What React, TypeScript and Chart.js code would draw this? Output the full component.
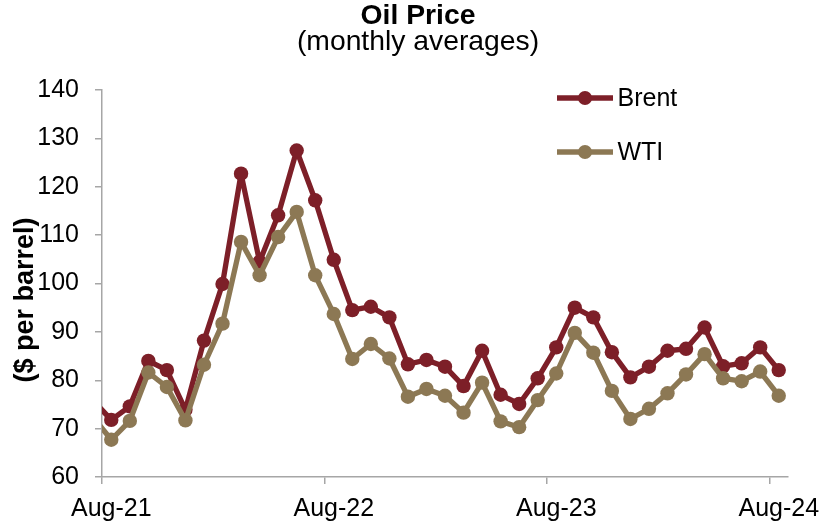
import React, { useEffect, useRef } from 'react';
import { Chart, registerables } from 'chart.js';

Chart.register(...registerables);

// Monthly averages, Jul-21 .. Aug-24 (Jul-21 lies just outside the visible axis range)
const months = [
  'Jul-21', 'Aug-21', 'Sep-21', 'Oct-21', 'Nov-21', 'Dec-21',
  'Jan-22', 'Feb-22', 'Mar-22', 'Apr-22', 'May-22', 'Jun-22', 'Jul-22', 'Aug-22', 'Sep-22', 'Oct-22', 'Nov-22', 'Dec-22',
  'Jan-23', 'Feb-23', 'Mar-23', 'Apr-23', 'May-23', 'Jun-23', 'Jul-23', 'Aug-23', 'Sep-23', 'Oct-23', 'Nov-23', 'Dec-23',
  'Jan-24', 'Feb-24', 'Mar-24', 'Apr-24', 'May-24', 'Jun-24', 'Jul-24', 'Aug-24',
];

const brent = [
  75.9, 71.8, 74.6, 84.0, 82.1, 73.9,
  88.2, 99.9, 122.7, 104.5, 114.1, 127.5, 117.2, 104.9, 94.5, 95.2, 93.0, 83.3,
  84.2, 82.8, 78.8, 86.1, 77.0, 75.1, 80.4, 86.8, 95.0, 93.0, 85.8, 80.6,
  82.8, 86.1, 86.5, 90.9, 82.9, 83.5, 86.8, 82.1,
];

const wti = [
  72.5, 67.7, 71.6, 81.6, 78.6, 71.7,
  83.2, 91.7, 108.6, 101.7, 109.6, 114.8, 101.7, 93.7, 84.4, 87.5, 84.5, 76.6,
  78.2, 76.8, 73.3, 79.5, 71.5, 70.3, 75.9, 81.4, 89.8, 85.7, 77.8, 72.0,
  74.1, 77.3, 81.2, 85.4, 80.4, 79.8, 81.8, 76.8,
];

const tickLabels = ['Aug-21', 'Aug-22', 'Aug-23', 'Aug-24'];
const firstVisibleMonth = 'Aug-21';

const titleText = 'Oil Price';
const subtitleText = '(monthly averages)';
const yAxisTitle = '($ per barrel)';

const BRENT_COLOR = '#7d1f28';
const WTI_COLOR = '#8c7854';
const AXIS_COLOR = '#a6a6a6';
const FONT = "'Liberation Sans', Arial, sans-serif";

export default function App() {
  const canvasRef = useRef<HTMLCanvasElement | null>(null);

  useEffect(() => {
    if (!canvasRef.current) return;
    const origin = months.indexOf(firstVisibleMonth);
    const toPoints = (arr: number[]) => arr.map((y, i) => ({ x: i - origin, y }));
    const lastX = months.length - 1 - origin;
    const tickValues = tickLabels.map((lab) => months.indexOf(lab) - origin - 0.5);

    const legendItems = [
      { label: 'Brent', color: BRENT_COLOR },
      { label: 'WTI', color: WTI_COLOR },
    ];

    const extrasPlugin = {
      id: 'extras',
      afterDraw(chart: any) {
        const ctx = chart.ctx as CanvasRenderingContext2D;
        ctx.save();
        // titles
        ctx.fillStyle = '#000';
        ctx.textAlign = 'center';
        ctx.textBaseline = 'middle';
        ctx.font = `bold 28.3px ${FONT}`;
        ctx.fillText(titleText, 418, 16.5);
        ctx.font = `28.3px ${FONT}`;
        ctx.fillText(subtitleText, 418, 42.5);
        // legend
        legendItems.forEach((it, i) => {
          const y = 98 + i * 54;
          ctx.strokeStyle = it.color;
          ctx.lineWidth = 5.3;
          ctx.lineCap = 'butt';
          ctx.beginPath();
          ctx.moveTo(557, y);
          ctx.lineTo(613, y);
          ctx.stroke();
          ctx.fillStyle = it.color;
          ctx.beginPath();
          ctx.arc(585, y, 7, 0, Math.PI * 2);
          ctx.fill();
          ctx.fillStyle = '#000';
          ctx.font = `25px ${FONT}`;
          ctx.textAlign = 'left';
          ctx.textBaseline = 'middle';
          ctx.fillText(it.label, 617.5, y + 1);
        });
        // y axis title
        ctx.translate(25.5, 300);
        ctx.rotate(-Math.PI / 2);
        ctx.fillStyle = '#000';
        ctx.font = `bold 27px ${FONT}`;
        ctx.textAlign = 'center';
        ctx.textBaseline = 'middle';
        ctx.fillText(yAxisTitle, 0, 0);
        ctx.restore();
      },
    };

    const lineStyle = {
      borderWidth: 5.3,
      pointRadius: 7.2,
      pointBorderWidth: 0,
      borderJoinStyle: 'round',
      borderCapStyle: 'round',
      clip: 0,
    };

    const chart = new Chart(canvasRef.current, {
      type: 'line',
      data: {
        datasets: [
          {
            label: 'Brent',
            data: toPoints(brent),
            borderColor: BRENT_COLOR,
            backgroundColor: BRENT_COLOR,
            pointBackgroundColor: BRENT_COLOR,
            order: 1,
            ...lineStyle,
          },
          {
            label: 'WTI',
            data: toPoints(wti),
            borderColor: WTI_COLOR,
            backgroundColor: WTI_COLOR,
            pointBackgroundColor: WTI_COLOR,
            order: 0,
            ...lineStyle,
          },
        ],
      },
      options: {
        animation: false,
        responsive: true,
        maintainAspectRatio: false,
        layout: { padding: { left: 0, right: 42, top: 90, bottom: 0 } },
        font: { family: FONT },
        plugins: {
          legend: { display: false },
          tooltip: { enabled: false },
          title: { display: false },
        },
        scales: {
          x: {
            type: 'linear',
            min: -0.5,
            max: lastX + 0.5,
            afterBuildTicks: (scale: any) => {
              scale.ticks = tickValues.map((v) => ({ value: v }));
            },
            afterFit: (scale: any) => {
              scale.height = 49;
            },
            ticks: {
              autoSkip: false,
              maxRotation: 0,
              color: '#000',
              padding: 10,
              labelOffset: 9.3,
              font: { family: FONT, size: 25, lineHeight: 1.2 },
              callback: (_v: any, i: number) => tickLabels[i],
            },
            grid: {
              drawOnChartArea: false,
              drawTicks: true,
              tickLength: 7,
              color: AXIS_COLOR,
              lineWidth: 1.5,
            },
            border: { display: true, color: AXIS_COLOR, width: 1.5 },
          },
          y: {
            min: 60,
            max: 140,
            afterFit: (scale: any) => {
              scale.width = 102;
            },
            ticks: {
              stepSize: 10,
              color: '#000',
              padding: 16,
              font: { family: FONT, size: 25 },
            },
            grid: {
              drawOnChartArea: false,
              drawTicks: true,
              tickLength: 7,
              color: AXIS_COLOR,
              lineWidth: 1.5,
            },
            border: { display: true, color: AXIS_COLOR, width: 1.5 },
          },
        },
      },
      plugins: [extrasPlugin],
    } as any);

    return () => chart.destroy();
  }, []);

  return (
    <div style={{ position: 'absolute', left: 0, top: 0, width: 830, height: 526, background: '#fff' }}>
      <canvas ref={canvasRef} />
    </div>
  );
}
